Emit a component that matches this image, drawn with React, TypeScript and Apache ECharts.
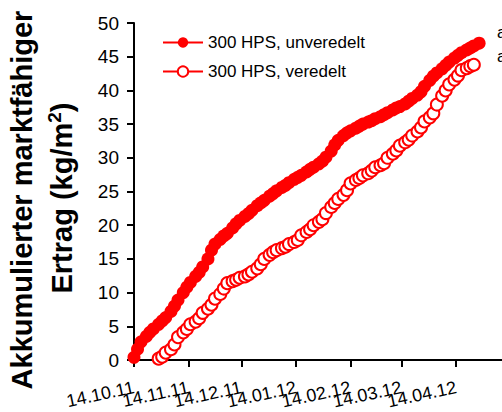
import React, { useEffect, useRef } from "react";
import * as echarts from "echarts";

// days after 14.10.11
const harvestDays = [
  0, 2, 4, 7, 9, 11, 14, 16, 18, 21, 23, 25, 28, 30, 32, 35, 37, 39, 42, 44, 46,
  49, 51, 53, 56, 58, 60, 63, 65, 67, 70, 72, 74, 77, 79, 81, 84, 86, 88, 91, 93,
  95, 98, 100, 102, 105, 107, 109, 112, 114, 116, 119, 121, 123, 126, 128, 130,
  133, 135, 137, 140, 142, 144, 147, 149, 151, 154, 156, 158, 161, 163, 165, 168,
  170, 172, 175, 177, 179, 182, 184, 186, 189, 191, 193, 196,
];

const unveredelt = [
  0.4, 1.6, 2.7, 3.5, 4.1, 4.6, 5.3, 5.8, 6.3, 7.2, 8.0, 8.9, 10.0, 10.8, 11.5,
  12.4, 13.0, 13.8, 15.0, 16.3, 17.2, 17.9, 18.4, 18.8, 19.6, 20.2, 20.7, 21.3,
  21.7, 22.2, 22.9, 23.3, 23.7, 24.3, 24.7, 25.1, 25.6, 25.9, 26.3, 26.8, 27.1,
  27.4, 27.9, 28.3, 28.6, 29.1, 29.5, 30.1, 31.0, 31.9, 32.6, 33.3, 33.7, 34.0,
  34.4, 34.7, 35.0, 35.3, 35.5, 35.8, 36.1, 36.4, 36.7, 37.1, 37.4, 37.6, 38.0,
  38.4, 38.8, 39.3, 39.8, 40.6, 41.5, 42.1, 42.6, 43.2, 43.7, 44.2, 44.8, 45.2,
  45.6, 46.0, 46.3, 46.6, 47.0,
];

const veredelt = [
  null, null, null, null, null, null,
  0.2, 0.5, 1.1, 1.6, 2.3, 3.4, 4.1, 4.6, 5.3, 5.7, 6.2, 7.0, 7.6, 8.2, 9.1, 9.8,
  10.6, 11.4, 11.7, 11.9, 12.2, 12.4, 12.7, 13.1, 13.6, 14.2, 15.0, 15.6, 16.0,
  16.3, 16.6, 16.8, 17.2, 17.5, 17.8, 18.5, 19.0, 19.4, 20.0, 20.5, 20.9, 21.8,
  22.7, 23.3, 23.9, 24.5, 25.2, 26.2, 26.7, 27.0, 27.4, 27.7, 28.1, 28.6, 28.9,
  29.2, 30.0, 30.6, 31.1, 31.8, 32.3, 32.7, 33.3, 33.9, 34.5, 35.4, 36.0, 36.6,
  37.9, 39.2, 40.0, 40.9, 41.6, 42.2, 43.0, 43.3, 43.6, 43.8,
];

const tickDays = [0, 31, 61, 92, 123, 152, 183];
const tickLabels = ["14.10.11", "14.11.11", "14.12.11", "14.01.12", "14.02.12", "14.03.12", "14.04.12"];

const seriesNames = ["300 HPS, unveredelt", "300 HPS, veredelt"];
const significance = ["a", "a"];

const FONT = "'Liberation Sans', Arial, Helvetica, sans-serif";
const RED = "#ff0000";

export default function App() {
  const ref = useRef<HTMLDivElement>(null);

  useEffect(() => {
    const chart = echarts.init(ref.current!, null, { renderer: "svg" });
    const toPairs = (vals: (number | null)[]) =>
      harvestDays.map((d, i) => [d, vals[i] == null ? null : vals[i]]).filter((p) => p[1] != null);

    const fmt = (v: number) => {
      const i = tickDays.indexOf(Math.round(v));
      return i >= 0 ? tickLabels[i] : "";
    };
    // split labels over two overlaid axes so that the library does not drop overlapping ones
    const evenDays = tickDays.filter((_, i) => i % 2 === 0);
    const oddDays = tickDays.filter((_, i) => i % 2 === 1);
    const labelBase = {
      interval: 0,
      showMinLabel: true,
      showMaxLabel: true,
      hideOverlap: false,
      rotate: 12,
      margin: 27,
      fontSize: 18,
      color: "#000",
      fontFamily: FONT,
      formatter: fmt,
    };

    chart.setOption({
      animation: false,
      backgroundColor: "#ffffff",
      textStyle: { fontFamily: FONT },
      grid: { left: 134, right: 0, top: 23, bottom: 52, containLabel: false },
      legend: {
        left: 157,
        top: 29,
        orient: "vertical",
        itemWidth: 40,
        itemHeight: 13,
        itemGap: 12,
        textStyle: { fontSize: 17, color: "#000", fontFamily: FONT },
        data: seriesNames,
      },
      xAxis: [
        {
          type: "value",
          min: 0,
          max: 209,
          position: "bottom",
          axisLine: { show: true, lineStyle: { color: "#000", width: 2 } },
          axisTick: { show: true, customValues: tickDays, length: 7, lineStyle: { color: "#000", width: 2 } },
          axisLabel: { ...labelBase, customValues: evenDays },
          splitLine: { show: false },
        },
        {
          type: "value",
          min: 0,
          max: 209,
          position: "bottom",
          offset: 0,
          axisLine: { show: false },
          axisTick: { show: false },
          axisLabel: { ...labelBase, customValues: oddDays },
          splitLine: { show: false },
        },
      ],
      yAxis: {
        type: "value",
        min: 0,
        max: 50,
        interval: 5,
        axisLine: { show: true, lineStyle: { color: "#000", width: 2 } },
        axisTick: { show: true, length: 7, lineStyle: { color: "#000", width: 2 } },
        axisLabel: { fontSize: 19, color: "#000", margin: 15, fontFamily: FONT },
        splitLine: { show: false },
      },
      series: [
        {
          name: seriesNames[0],
          type: "line",
          xAxisIndex: 0,
          data: toPairs(unveredelt),
          symbol: "circle",
          symbolSize: 13,
          showAllSymbol: true,
          lineStyle: { color: RED, width: 2 },
          itemStyle: { color: RED },
        },
        {
          name: seriesNames[1],
          type: "line",
          xAxisIndex: 0,
          data: toPairs(veredelt),
          symbol: "emptyCircle",
          symbolSize: 12,
          showAllSymbol: true,
          lineStyle: { color: RED, width: 2 },
          itemStyle: { color: RED, borderWidth: 1.3 },
        },
      ],
      graphic: [
        {
          type: "text",
          x: 22,
          y: 200,
          rotation: Math.PI / 2,
          style: {
            text: "Akkumulierter marktfähiger",
            fontSize: 29,
            fontWeight: "bold",
            fontFamily: FONT,
            fill: "#000",
            align: "center",
            verticalAlign: "middle",
          },
        },
        {
          type: "text",
          x: 62,
          y: 198,
          rotation: Math.PI / 2,
          style: {
            text: "Ertrag (kg/m{sup|2})",
            fontSize: 29,
            fontWeight: "bold",
            fontFamily: FONT,
            fill: "#000",
            align: "center",
            verticalAlign: "middle",
            rich: {
              sup: { fontSize: 19, fontWeight: "bold", fontFamily: FONT, fill: "#000", padding: [0, 0, 15, 0] },
            },
          },
        },
        {
          type: "text",
          x: 497,
          y: 32,
          style: { text: significance[0], fontSize: 17, fontFamily: FONT, fill: "#000", verticalAlign: "middle" },
        },
        {
          type: "text",
          x: 497,
          y: 56,
          style: { text: significance[1], fontSize: 17, fontFamily: FONT, fill: "#000", verticalAlign: "middle" },
        },
      ],
    });
    return () => chart.dispose();
  }, []);

  return (
    <div
      ref={ref}
      style={{ position: "fixed", left: 0, top: 0, width: 502, height: 412, background: "#fff" }}
    />
  );
}
